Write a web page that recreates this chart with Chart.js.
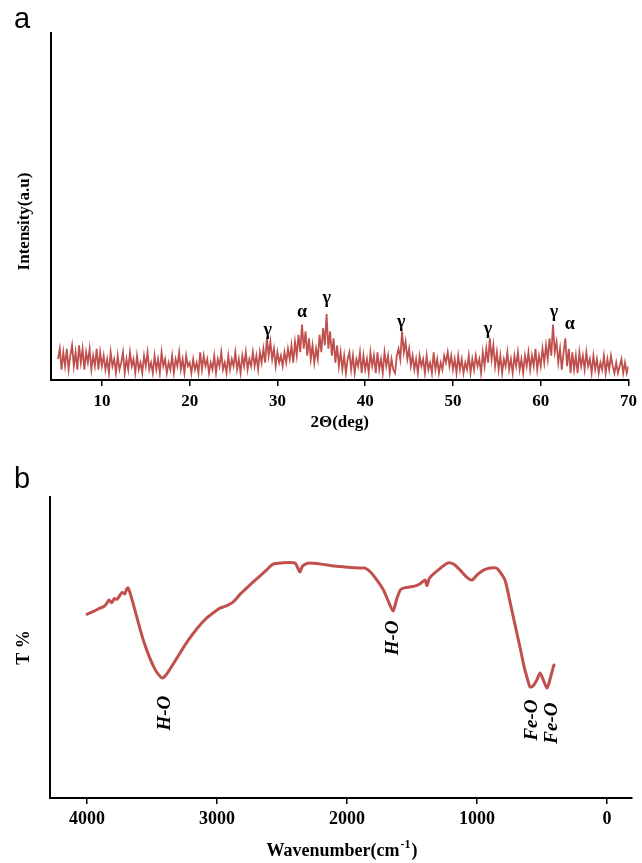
<!DOCTYPE html>
<html>
<head>
<meta charset="utf-8">
<script src="https://cdn.jsdelivr.net/npm/chart.js@4.4.1/dist/chart.umd.min.js"></script>
<style>
  html, body { margin: 0; padding: 0; background: #fff; }
  #wrap { position: relative; width: 642px; height: 863px; overflow: hidden; }
  #wrap canvas { position: absolute; left: 0; }
  #cvA { top: 0; }
  #cvB { top: 440px; }
  .panel-tag { position: absolute; left: 14px; font-family: 'Liberation Sans', Arial, sans-serif; font-size: 29px; line-height: 1; color: #000; }
</style>
</head>
<body>
<div id="wrap">
  <canvas id="cvA" width="642" height="440"></canvas>
  <canvas id="cvB" width="642" height="423"></canvas>
  <div class="panel-tag" style="top:4px">a</div>
  <div class="panel-tag" style="top:464px">b</div>
</div>
<script>
// (a) XRD 패턴: 2θ = 5.0 ~ 70.0, 0.2° 간격으로 읽은 강도 (상대값 0~100)
var XRD_START = 5.0;
var XRD_STEP = 0.2;
var XRD_INTENSITY = [
  6, 9, 3, 8, 4, 9, 3, 7, 10, 4, 8, 3, 10, 5, 9, 3, 8, 5, 9, 3, 7, 4, 9, 3, 8, 4,
  7, 3, 6, 2, 8, 4, 6, 2, 7, 3, 5, 8, 2, 6, 3, 8, 4, 6, 2, 7, 3, 5, 2, 7, 4, 8, 3, 5, 2, 7,
  3, 6, 2, 8, 4, 6, 2, 5, 3, 7, 2, 6, 4, 8, 3, 6, 2, 7, 4, 5,
  2, 6, 3, 5, 2, 8, 3, 7, 4, 6, 2, 5, 3, 7, 2, 6, 4, 8, 3, 5, 2, 7, 3, 6, 4, 8, 3, 6, 2, 7,
  4, 8, 3, 6, 4,
  8, 4, 7, 3, 8, 5, 9, 5, 12, 7, 11, 6, 9, 4, 8, 5, 7, 4, 8, 5,
  9, 6, 10, 5, 11, 7, 13, 8, 16, 9, 14, 7, 12, 6, 10, 5, 9, 6, 13, 8, 15, 10, 19, 9, 14, 7, 12, 5, 10, 4,
  8, 3, 7, 2, 6, 8, 3, 7, 2, 6, 4, 8, 2, 7, 3, 6, 2, 8, 4, 7, 2, 8, 3, 6, 2, 8, 4, 7, 2, 6, 3, 2, 7,
  9, 6, 14, 8, 11, 6, 9, 4, 7,
  3, 6, 2, 7, 4, 6, 2, 7, 3, 5, 2, 8, 3, 6, 2, 5, 3, 7, 5, 8, 4, 7, 3, 6, 2, 7, 3, 6, 2, 5,
  3, 7, 2, 6, 3, 7, 4, 6, 2, 8, 4,
  9, 5, 12, 6, 10, 4, 8,
  3, 7, 2, 6, 4, 8, 3, 6, 2, 7, 4, 8, 3, 6, 2, 7, 4, 8, 3, 7, 4, 9, 3, 7, 4, 9, 5,
  10, 6, 12, 7, 16, 8, 11, 5, 9, 3, 8, 12, 4, 9, 2,
  8, 3, 7, 2, 8, 4, 7, 3, 8, 4, 6, 2, 7, 3, 6, 2, 5, 3, 7, 2, 6, 3, 7, 4, 2, 5, 2, 4, 6, 2,
  5, 2, 4
];
var XRD_TICKS = [10, 20, 30, 40, 50, 60, 70];
var XRD_PEAK_LABELS = ['γ', 'α', 'γ', 'γ', 'γ', 'γ', 'α'];
var XRD_PEAK_X = [28.9, 32.8, 35.6, 44.1, 54.0, 61.5, 63.3];
var XRD_PEAK_Y = [14.4, 19.6, 23.6, 16.7, 14.7, 19.6, 15.9];

// (b) FT-IR 스펙트럼: 파수(cm-1) 대 투과율(상대값 0~100)
var FTIR_WAVENUMBER = [
  4000, 3950, 3900, 3870, 3850, 3830, 3810, 3790, 3770, 3750,
  3730, 3710, 3695, 3685, 3670, 3650, 3620, 3590, 3560, 3520,
  3480, 3450, 3423, 3400, 3370, 3330, 3280, 3220, 3150, 3080,
  3030, 2980, 2930, 2877, 2820, 2746, 2680, 2620, 2569, 2500,
  2400, 2385, 2362, 2345, 2320, 2285, 2200, 2100, 2000, 1900,
  1862, 1820, 1770, 1720, 1680, 1646, 1620, 1590, 1560, 1520,
  1480, 1440, 1400, 1385, 1365, 1300, 1223, 1180, 1130, 1080,
  1038, 1000, 950, 900, 850, 823, 785, 746, 700, 669,
  640, 610, 592, 570, 540, 515, 490, 462, 440, 420, 408
];
var FTIR_T = [
  61.1, 62.0, 63.1, 63.6, 64.6, 65.8, 64.9, 66.3, 66.0, 67.2,
  68.3, 67.8, 69.4, 69.8, 68.3, 65.3, 60.5, 55.8, 51.5, 46.8,
  43.0, 41.0, 39.9, 40.5, 42.3, 45.0, 48.5, 52.5, 56.5, 59.8,
  61.5, 63.0, 63.8, 65.1, 67.8, 70.8, 73.4, 75.7, 77.7, 78.1,
  78.1, 77.0, 75.1, 76.9, 77.7, 78.1, 77.7, 77.1, 76.7, 76.4,
  76.4, 75.1, 72.4, 69.1, 65.1, 62.1, 65.8, 69.1, 69.8, 70.1,
  70.4, 71.1, 72.4, 70.6, 73.1, 75.7, 78.1, 77.7, 75.7, 73.4,
  72.4, 74.1, 75.7, 76.4, 76.4, 75.1, 72.4, 65.1, 56.0, 50.0,
  44.0, 39.2, 36.9, 37.2, 39.2, 41.5, 39.2, 36.5, 39.2, 42.5, 44.2
];
var FTIR_TICKS = [4000, 3000, 2000, 1000, 0];
var FTIR_BAND_LABELS = ['H-O', 'H-O', 'Fe-O', 'Fe-O'];
var FTIR_BAND_X = [3400, 1646, 577, 423];
var FTIR_BAND_Y = [28.2, 53.2, 25.9, 24.9];

var SERIF = "'Liberation Serif', 'Times New Roman', serif";
var LINE_RED = '#c0504d';
var INK = '#000';

function boldSerif(size) {
  return { family: SERIF, size: size, weight: 'bold' };
}

function fixedTicks(list) {
  return function (scale) {
    scale.ticks = list.map(function (v) { return { value: v }; });
  };
}

// 피크/밴드 표기: 데이터 좌표 기준으로 글자를 찍는다 (rotate=true 이면 세로 -90°)
function makeMarksPlugin(id, labels, xs, ys, font, rotate) {
  return {
    id: id,
    afterDatasetsDraw: function (chart) {
      var ctx = chart.ctx;
      var sx = chart.scales.x;
      var sy = chart.scales.y;
      ctx.save();
      ctx.fillStyle = INK;
      ctx.font = font;
      ctx.textAlign = 'center';
      ctx.textBaseline = 'middle';
      for (var i = 0; i < labels.length; i++) {
        ctx.save();
        ctx.translate(sx.getPixelForValue(xs[i]), sy.getPixelForValue(ys[i]));
        if (rotate) ctx.rotate(-Math.PI / 2);
        ctx.fillText(labels[i], 0, 0);
        ctx.restore();
      }
      ctx.restore();
    }
  };
}

// (a) y축 제목: 축 중앙보다 약간 아래에 놓여 있어 직접 그린다
var intensityTitlePlugin = {
  id: 'intensityTitle',
  afterDraw: function (chart) {
    var ctx = chart.ctx;
    var area = chart.chartArea;
    ctx.save();
    ctx.fillStyle = INK;
    ctx.font = 'bold 17px ' + SERIF;
    ctx.textAlign = 'center';
    ctx.textBaseline = 'middle';
    ctx.translate(25, (area.top + area.bottom) / 2 + 15);
    ctx.rotate(-Math.PI / 2);
    ctx.fillText('Intensity(a.u)', 0, 0);
    ctx.restore();
  }
};

// (b) x축 제목: cm 뒤 위첨자 -1
var wavenumberTitlePlugin = {
  id: 'wavenumberTitle',
  afterDraw: function (chart) {
    var ctx = chart.ctx;
    var area = chart.chartArea;
    var main = 'Wavenumber(cm';
    var sup = '-1';
    var tail = ')';
    ctx.save();
    ctx.fillStyle = INK;
    ctx.textBaseline = 'alphabetic';
    ctx.font = 'bold 18px ' + SERIF;
    var wMain = ctx.measureText(main).width;
    var wTail = ctx.measureText(tail).width;
    ctx.font = 'bold 12px ' + SERIF;
    var wSup = ctx.measureText(sup).width;
    var x = (area.left + area.right) / 2 - (wMain + wSup + wTail) / 2;
    var y = chart.height - 7;
    ctx.font = 'bold 18px ' + SERIF;
    ctx.textAlign = 'left';
    ctx.fillText(main, x, y);
    ctx.font = 'bold 12px ' + SERIF;
    ctx.fillText(sup, x + wMain + 1, y - 8);
    ctx.font = 'bold 18px ' + SERIF;
    ctx.fillText(tail, x + wMain + wSup + 2, y);
    ctx.restore();
  }
};

function xrdPoints() {
  return XRD_INTENSITY.map(function (v, i) {
    return { x: +(XRD_START + i * XRD_STEP).toFixed(1), y: v };
  });
}

function ftirPoints() {
  return FTIR_WAVENUMBER.map(function (w, i) {
    return { x: w, y: FTIR_T[i] };
  });
}

var commonPlugins = {
  legend: { display: false },
  tooltip: { enabled: false }
};

// ---------- (a) XRD ----------
new Chart(document.getElementById('cvA'), {
  type: 'line',
  data: {
    datasets: [{
      data: xrdPoints(),
      borderColor: LINE_RED,
      borderWidth: 1.8,
      pointRadius: 0,
      tension: 0,
      fill: false
    }]
  },
  options: {
    responsive: false,
    animation: false,
    devicePixelRatio: 1,
    parsing: false,
    layout: { padding: { top: 33, right: 12, left: 0, bottom: 0 } },
    scales: {
      x: {
        type: 'linear',
        min: 4.2,
        max: 70,
        afterBuildTicks: fixedTicks(XRD_TICKS),
        afterFit: function (s) { s.height = 60; },
        ticks: {
          color: INK,
          font: boldSerif(17),
          padding: 5,
          maxRotation: 0,
          autoSkip: false,
          callback: function (v) { return String(v); }
        },
        grid: { drawOnChartArea: false, drawTicks: true, tickLength: 6, color: INK, lineWidth: 1.5 },
        border: { color: INK, width: 2 },
        title: { display: true, text: '2Θ(deg)', color: INK, font: boldSerif(17), padding: { top: 0, bottom: 7 } }
      },
      y: {
        type: 'linear',
        min: 0,
        max: 100,
        afterFit: function (s) { s.width = 51; },
        ticks: { display: false },
        grid: { display: false },
        border: { color: INK, width: 2 }
      }
    },
    plugins: commonPlugins
  },
  plugins: [
    makeMarksPlugin('xrdPeaks', XRD_PEAK_LABELS, XRD_PEAK_X, XRD_PEAK_Y, 'bold 18px ' + SERIF, false),
    intensityTitlePlugin
  ]
});

// ---------- (b) FT-IR ----------
new Chart(document.getElementById('cvB'), {
  type: 'line',
  data: {
    datasets: [{
      data: ftirPoints(),
      borderColor: LINE_RED,
      borderWidth: 3,
      pointRadius: 0,
      tension: 0.25,
      borderJoinStyle: 'round',
      borderCapStyle: 'round',
      fill: false
    }]
  },
  options: {
    responsive: false,
    animation: false,
    devicePixelRatio: 1,
    parsing: false,
    layout: { padding: { top: 57, right: 10, left: 0, bottom: 0 } },
    scales: {
      x: {
        type: 'linear',
        reverse: true,
        min: -192,
        max: 4285,
        afterBuildTicks: fixedTicks(FTIR_TICKS),
        afterFit: function (s) { s.height = 65; },
        ticks: {
          color: INK,
          font: boldSerif(18),
          padding: 5,
          maxRotation: 0,
          autoSkip: false,
          callback: function (v) { return String(v); }
        },
        grid: { drawOnChartArea: false, drawTicks: true, tickLength: 6, color: INK, lineWidth: 1.5 },
        border: { color: INK, width: 2 }
      },
      y: {
        type: 'linear',
        min: 0,
        max: 100,
        afterFit: function (s) { s.width = 50; },
        ticks: { display: false },
        grid: { display: false },
        border: { color: INK, width: 2 },
        title: { display: true, text: 'T %', color: INK, font: boldSerif(18), padding: { top: 14, bottom: 0 } }
      }
    },
    plugins: commonPlugins
  },
  plugins: [
    makeMarksPlugin('ftirBands', FTIR_BAND_LABELS, FTIR_BAND_X, FTIR_BAND_Y, 'italic bold 19px ' + SERIF, true),
    wavenumberTitlePlugin
  ]
});
</script>
</body>
</html>
